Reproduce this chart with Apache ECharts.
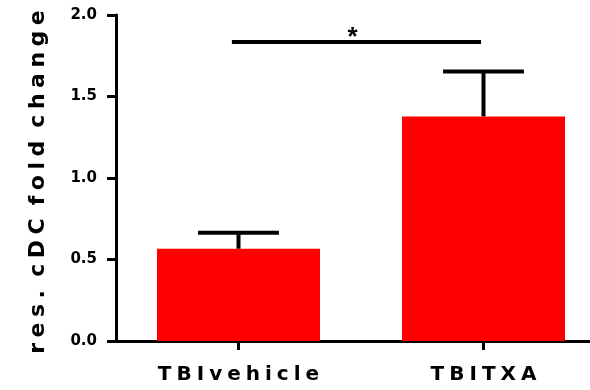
<!DOCTYPE html>
<html>
<head>
<meta charset="utf-8">
<script src="https://cdn.jsdelivr.net/npm/echarts@6/dist/echarts.min.js"></script>
<style>
  html, body { margin: 0; padding: 0; background: #fff; overflow: hidden; }
  #chart { width: 590px; height: 390px; }
</style>
</head>
<body>
<div id="chart"></div>
<script>
// Group names, mean fold change and upper error (SEM)
const categories = ['TBI vehicle', 'TBI TXA'];
const meanValues = [0.566, 1.378];
const errorValues = [0.098, 0.275];
// Significance bracket between the two groups
const sigPair = [0, 1];
const sigLevel = 1.835;
const sigLabel = '*';
// Y axis scale
const yMin = 0, yMax = 2, yStep = 0.5;
const yTitle = 'res. cDC fold change';

const FONT = '"DejaVu Sans", "Liberation Sans", Arial, sans-serif';
const RED = '#ff0000';
const QUARTER = '\u2005';

// Prism-style wide letter spacing: small gaps inside words, wider between words
function spaced(str, letterGap, wordGap) {
  return str.split(' ').map(w => w.split('').join(letterGap)).join(wordGap);
}

const chart = echarts.init(document.getElementById('chart'), null, { renderer: 'canvas' });

const option = {
  animation: false,
  backgroundColor: '#ffffff',
  grid: { left: 116, right: -16, top: 15, bottom: 49, containLabel: false, outerBoundsMode: 'none' },
  xAxis: {
    type: 'category',
    data: categories,
    boundaryGap: true,
    axisLine: { lineStyle: { color: '#000', width: 3 } },
    axisTick: { show: true, alignWithLabel: true, length: 9, lineStyle: { color: '#000', width: 3 } },
    axisLabel: {
      color: '#000', fontFamily: FONT, fontWeight: 'bold', fontSize: 20, margin: 24,
      formatter: v => spaced(v, QUARTER, QUARTER)
    },
    splitLine: { show: false }
  },
  yAxis: {
    type: 'value',
    min: yMin, max: yMax, interval: yStep,
    name: spaced(yTitle, QUARTER, QUARTER + ' '),
    nameLocation: 'middle',
    nameGap: 67,
    nameTextStyle: { color: '#000', fontFamily: FONT, fontWeight: 'bold', fontSize: 22, padding: [0, 8, 0, 0] },
    axisLine: { show: true, lineStyle: { color: '#000', width: 3 } },
    axisTick: { show: true, length: 9, lineStyle: { color: '#000', width: 3 } },
    axisLabel: {
      color: '#000', fontFamily: FONT, fontWeight: 'bold', fontSize: 15, margin: 19,
      formatter: v => v.toFixed(1)
    },
    splitLine: { show: false }
  },
  series: [
    {
      type: 'bar',
      data: meanValues,
      barWidth: 163,
      itemStyle: { color: RED },
      z: 2
    },
    {
      // upper error bars: stem from bar top to a cap
      type: 'custom',
      data: meanValues.map((m, i) => [i, m, m + errorValues[i]]),
      renderItem: function (params, api) {
        const x = api.value(0);
        const base = api.coord([x, api.value(1)]);
        const top = api.coord([x, api.value(2)]);
        const half = api.size([1, 0])[0] * 0.165;
        const style = { stroke: '#000', lineWidth: 4 };
        return {
          type: 'group',
          children: [
            { type: 'line', shape: { x1: base[0], y1: base[1], x2: top[0], y2: top[1] }, style },
            { type: 'line', shape: { x1: top[0] - half, y1: top[1], x2: top[0] + half, y2: top[1] }, style }
          ]
        };
      },
      z: 3
    },
    {
      // significance bracket with its marker
      type: 'custom',
      data: [[sigPair[0], sigPair[1], sigLevel]],
      renderItem: function (params, api) {
        const a = api.coord([api.value(0), api.value(2)]);
        const b = api.coord([api.value(1), api.value(2)]);
        const band = api.size([1, 0])[0];
        const x1 = a[0] - band * 0.027;
        const x2 = b[0] - band * 0.01;
        return {
          type: 'group',
          children: [
            { type: 'line', shape: { x1: x1, y1: a[1], x2: x2, y2: b[1] }, style: { stroke: '#000', lineWidth: 4 } },
            {
              type: 'text',
              style: {
                text: sigLabel, x: (x1 + x2) / 2 - 4, y: a[1] + 9,
                align: 'center', verticalAlign: 'bottom',
                fontFamily: '"Liberation Sans", Arial, sans-serif', fontWeight: 'bold', fontSize: 26, fill: '#000'
              }
            }
          ]
        };
      },
      z: 3
    }
  ]
};

chart.setOption(option);
</script>
</body>
</html>
